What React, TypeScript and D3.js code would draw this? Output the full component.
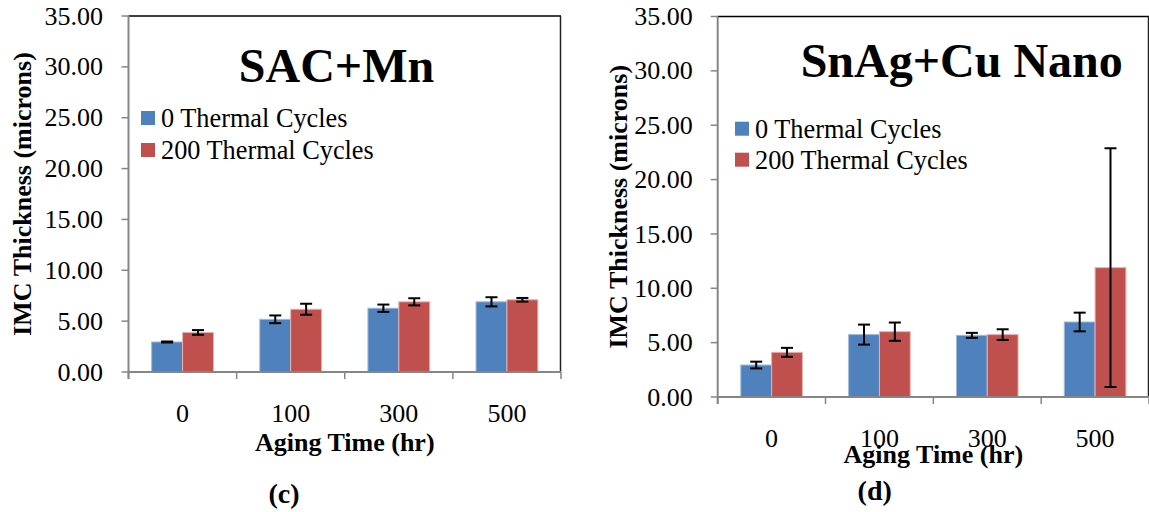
import React from "react";
import * as d3 from "d3";

// Aging time categories (hours)
const agingTimes = ["0", "100", "300", "500"];
const seriesNames = ["0 Thermal Cycles", "200 Thermal Cycles"];
const seriesColors = ["#4F81BD", "#C0504D"];
const seriesStroke = ["#9db9dc", "#e4b3b1"];

// SAC+Mn: IMC thickness (microns) and standard deviation
const sacMn0 = [2.95, 5.18, 6.27, 6.9];
const sacMn0Err = [0.05, 0.38, 0.36, 0.45];
const sacMn200 = [3.89, 6.17, 6.9, 7.1];
const sacMn200Err = [0.23, 0.54, 0.35, 0.18];

// SnAg+Cu Nano: IMC thickness (microns) and standard deviation
const nano0 = [2.94, 5.74, 5.67, 6.9];
const nano0Err = [0.31, 0.92, 0.23, 0.86];
const nano200 = [4.11, 6.01, 5.74, 11.9];
const nano200Err = [0.41, 0.84, 0.49, 10.98];

const yTicks = [0, 5, 10, 15, 20, 25, 30, 35];

const serif = { fontFamily: "Liberation Serif" };
const fmt = d3.format(".2f");

type PanelProps = {
  left: number;
  right: number;
  top: number;
  bottom: number;
  title: string;
  titleX: number;
  titleY: number;
  legendX: number;
  legendY: number;
  legendGap: number;
  values: number[][];
  errors: number[][];
  tickBaseline: number;
  axisTitleY: number;
  caption: string;
  captionX: number;
  captionY: number;
  yTitleX: number;
  yLabelX: number;
};

function Panel(p: PanelProps) {
  const x = d3
    .scaleBand<string>()
    .domain(agingTimes)
    .range([p.left, p.right])
    .paddingInner(0)
    .paddingOuter(0);
  const inner = d3
    .scaleBand<number>()
    .domain([0, 1])
    .range([0, x.bandwidth()])
    .paddingInner(0)
    .paddingOuter(0.75);
  const y = d3.scaleLinear().domain([0, 35]).range([p.bottom, p.top]);
  const cap = 6;
  const boundaries = agingTimes.map((t) => x(t) as number).concat([p.right]);

  return (
    <g>
      {/* plot frame: top and right edges */}
      <line x1={p.left} x2={p.right} y1={p.top} y2={p.top} stroke="#000" strokeWidth={1.5} />
      <line x1={p.right - 0.5} x2={p.right - 0.5} y1={p.top} y2={p.bottom} stroke="#222" strokeWidth={1.5} />

      {/* bars */}
      {p.values.map((series, si) =>
        series.map((v, i) => {
          const bx = (x(agingTimes[i]) as number) + (inner(si) as number);
          return (
            <rect
              key={`b${si}-${i}`}
              x={bx}
              y={y(v)}
              width={inner.bandwidth()}
              height={y(0) - y(v)}
              fill={seriesColors[si]}
              stroke={seriesStroke[si]}
              strokeWidth={1}
            />
          );
        })
      )}

      {/* error bars */}
      {p.values.map((series, si) =>
        series.map((v, i) => {
          const cx = (x(agingTimes[i]) as number) + (inner(si) as number) + inner.bandwidth() / 2;
          const e = p.errors[si][i];
          const y1 = y(v + e);
          const y2 = y(Math.max(0, v - e));
          return (
            <g key={`e${si}-${i}`} stroke="#000" strokeWidth={2}>
              <line x1={cx} x2={cx} y1={y1} y2={y2} />
              <line x1={cx - cap} x2={cx + cap} y1={y1} y2={y1} />
              <line x1={cx - cap} x2={cx + cap} y1={y2} y2={y2} />
            </g>
          );
        })
      )}

      {/* y axis */}
      <line x1={p.left} x2={p.left} y1={p.top} y2={p.bottom + 7} stroke="#868686" strokeWidth={2} />
      {yTicks.map((t) => (
        <g key={`yt${t}`}>
          <line x1={p.left - 7} x2={p.left} y1={y(t)} y2={y(t)} stroke="#868686" strokeWidth={1.5} />
          <text x={p.yLabelX} y={y(t)} dy="0.33em" textAnchor="end" fontSize={26} fill="#000" style={serif}>
            {fmt(t)}
          </text>
        </g>
      ))}

      {/* x axis */}
      <line x1={p.left} x2={p.right} y1={p.bottom} y2={p.bottom} stroke="#868686" strokeWidth={2} />
      {boundaries.map((bx, i) => (
        <line key={`xt${i}`} x1={bx} x2={bx} y1={p.bottom} y2={p.bottom + 7} stroke="#868686" strokeWidth={1.5} />
      ))}
      {agingTimes.map((t) => (
        <text
          key={`xl${t}`}
          x={(x(t) as number) + x.bandwidth() / 2}
          y={p.tickBaseline}
          textAnchor="middle"
          fontSize={26}
          fill="#000"
          style={serif}
        >
          {t}
        </text>
      ))}

      {/* axis titles */}
      <text
        x={(p.left + p.right) / 2}
        y={p.axisTitleY}
        textAnchor="middle"
        fontWeight="bold"
        fontSize={26}
        style={serif}
      >
        Aging Time (hr)
      </text>
      <text
        transform={`translate(${p.yTitleX},${(p.top + p.bottom) / 2}) rotate(-90)`}
        textAnchor="middle"
        fontWeight="bold"
        fontSize={26}
        style={serif}
      >
        IMC Thickness (microns)
      </text>

      {/* chart title */}
      <text x={p.titleX} y={p.titleY} textAnchor="middle" fontWeight="bold" fontSize={48} style={serif}>
        {p.title}
      </text>

      {/* legend */}
      {seriesNames.map((name, si) => (
        <g key={`lg${si}`} transform={`translate(${p.legendX},${p.legendY + si * p.legendGap})`}>
          <rect x={0} y={0} width={14} height={14} fill={seriesColors[si]} />
          <text x={20} y={16} fontSize={26.3} fill="#000" style={serif}>
            {name}
          </text>
        </g>
      ))}

      {/* panel caption */}
      <text x={p.captionX} y={p.captionY} textAnchor="middle" fontWeight="bold" fontSize={28} style={serif}>
        {p.caption}
      </text>
    </g>
  );
}

export default function App() {
  return (
    <svg
      width={1149}
      height={512}
      style={{ position: "absolute", left: 0, top: 0, background: "#fff", fontFamily: "Liberation Serif" }}
    >
      <rect width={1149} height={512} fill="#fff" />
      <Panel
        left={128.5}
        right={561}
        top={16}
        bottom={372}
        title="SAC+Mn"
        titleX={336.5}
        titleY={81.7}
        legendX={141}
        legendY={111}
        legendGap={32}
        values={[sacMn0, sacMn200]}
        errors={[sacMn0Err, sacMn200Err]}
        tickBaseline={422}
        axisTitleY={451}
        caption="(c)"
        captionX={284}
        captionY={503}
        yTitleX={31}
        yLabelX={103}
      />
      <Panel
        left={717.7}
        right={1149}
        top={16.5}
        bottom={397}
        title="SnAg+Cu Nano"
        titleX={961.7}
        titleY={76.7}
        legendX={735}
        legendY={121.7}
        legendGap={31}
        values={[nano0, nano200]}
        errors={[nano0Err, nano200Err]}
        tickBaseline={446.7}
        axisTitleY={463.3}
        caption="(d)"
        captionX={874.7}
        captionY={500}
        yTitleX={627}
        yLabelX={692.7}
      />
    </svg>
  );
}
